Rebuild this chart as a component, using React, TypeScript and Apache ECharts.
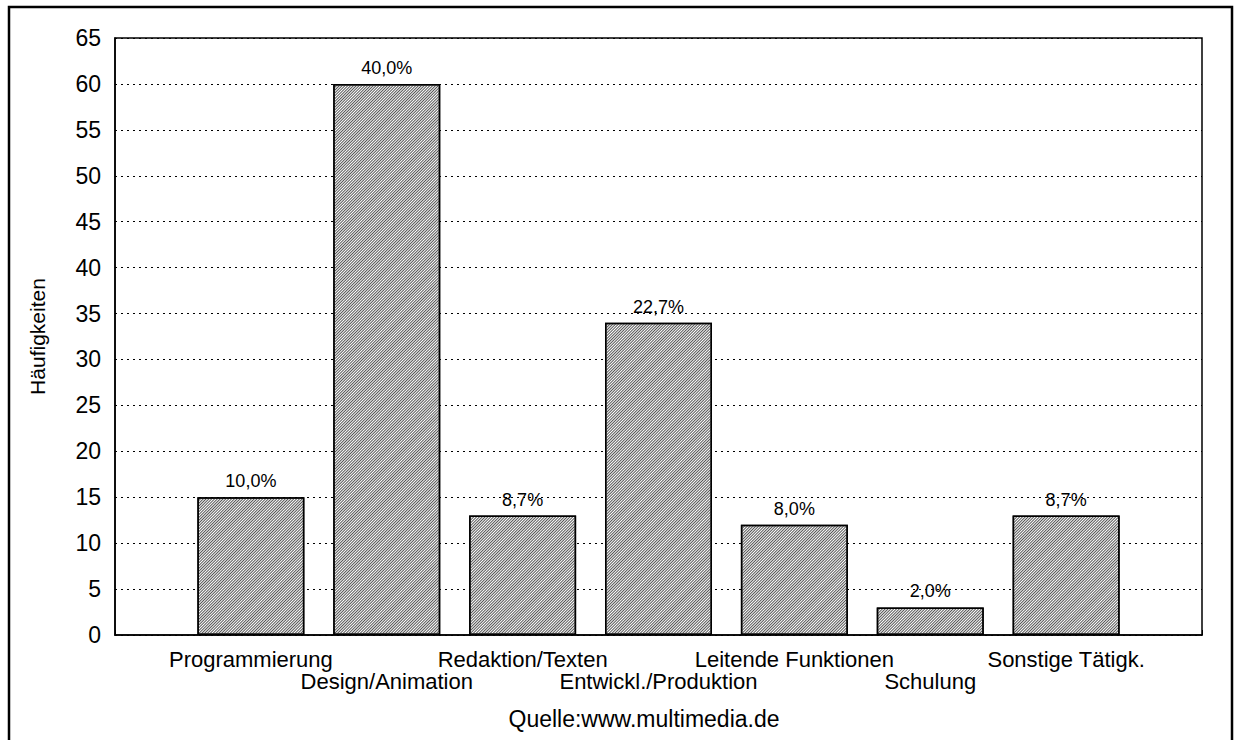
import React, { useEffect, useRef } from "react";
import * as echarts from "echarts";

const categories = [
  "Programmierung",
  "Design/Animation",
  "Redaktion/Texten",
  "Entwickl./Produktion",
  "Leitende Funktionen",
  "Schulung",
  "Sonstige Tätigk.",
];
const frequencies = [15, 60, 13, 34, 12, 3, 13];
const percentLabels = ["10,0%", "40,0%", "8,7%", "22,7%", "8,0%", "2,0%", "8,7%"];
const yTicks = { min: 0, max: 65, interval: 5 };
const yAxisTitle = "Häufigkeiten";
const sourceNote = "Quelle:www.multimedia.de";

const FONT = "'Liberation Sans', Arial, sans-serif";

export default function App() {
  const ref = useRef<HTMLDivElement>(null);

  useEffect(() => {
    if (!ref.current) return;
    const chart = echarts.init(ref.current, null, { renderer: "svg" });

    // pad categories so bars sit at positions 1..7 on a 0..8 scale
    const axisCats = ["", ...categories, ""];
    const seriesData: any[] = ["-", ...frequencies, "-"];

    chart.setOption({
      animation: false,
      backgroundColor: "#fff",
      textStyle: { fontFamily: FONT },
      grid: {
        left: 115,
        top: 38,
        width: 1087,
        height: 597,
        show: true,
        borderColor: "#000",
        borderWidth: 1.5,
        backgroundColor: "transparent",
      },
      xAxis: {
        type: "category",
        data: axisCats,
        boundaryGap: false,
        axisLine: { show: true, lineStyle: { color: "#000", width: 1.5 } },
        axisTick: { show: true, inside: true, length: 5, lineStyle: { color: "#000" } },
        splitLine: { show: false },
        axisLabel: {
          interval: 0,
          color: "#000",
          fontSize: 22,
          fontFamily: FONT,
          margin: 13,
          lineHeight: 22,
          formatter: (v: string, i: number) => {
            if (!v) return "";
            return i % 2 === 1 ? v + "\n " : " \n" + v;
          },
        },
      },
      yAxis: {
        type: "value",
        min: yTicks.min,
        max: yTicks.max,
        interval: yTicks.interval,
        name: yAxisTitle,
        nameLocation: "middle",
        nameGap: 67,
        nameTextStyle: { color: "#000", fontSize: 21, fontFamily: FONT },
        axisLine: { show: true, lineStyle: { color: "#000", width: 1.5 } },
        axisTick: { show: false },
        axisLabel: { color: "#000", fontSize: 23, fontFamily: FONT, margin: 14 },
        splitLine: { show: true, lineStyle: { color: "#000", type: [2, 4], width: 1 } },
      },
      series: [
        {
          type: "bar",
          data: seriesData,
          barWidth: 107,
          itemStyle: {
            color: "#fff",
            borderColor: "#000",
            borderWidth: 1.5,
            decal: {
              symbol: "rect",
              color: "#555",
              dashArrayX: [1, 0],
              dashArrayY: [1, 1],
              rotation: -Math.PI / 4,
              symbolSize: 1,
            },
          },
          label: {
            show: true,
            position: "top",
            distance: 7,
            color: "#000",
            fontSize: 18,
            fontFamily: FONT,
            formatter: (p: any) => percentLabels[p.dataIndex - 1] ?? "",
          },
        },
      ],
      graphic: [
        {
          type: "rect",
          shape: { x: 9, y: 7, width: 1223, height: 760 },
          style: { fill: "none", stroke: "#000", lineWidth: 2.5 },
          silent: true,
        },
        {
          type: "text",
          x: 644,
          y: 719,
          style: {
            text: sourceNote,
            fontSize: 23,
            fontFamily: FONT,
            fill: "#000",
            align: "center",
            verticalAlign: "middle",
          },
        },
      ],
    });

    return () => chart.dispose();
  }, []);

  return (
    <div
      ref={ref}
      style={{ position: "fixed", left: 0, top: 0, width: 1242, height: 740, background: "#fff" }}
    />
  );
}
